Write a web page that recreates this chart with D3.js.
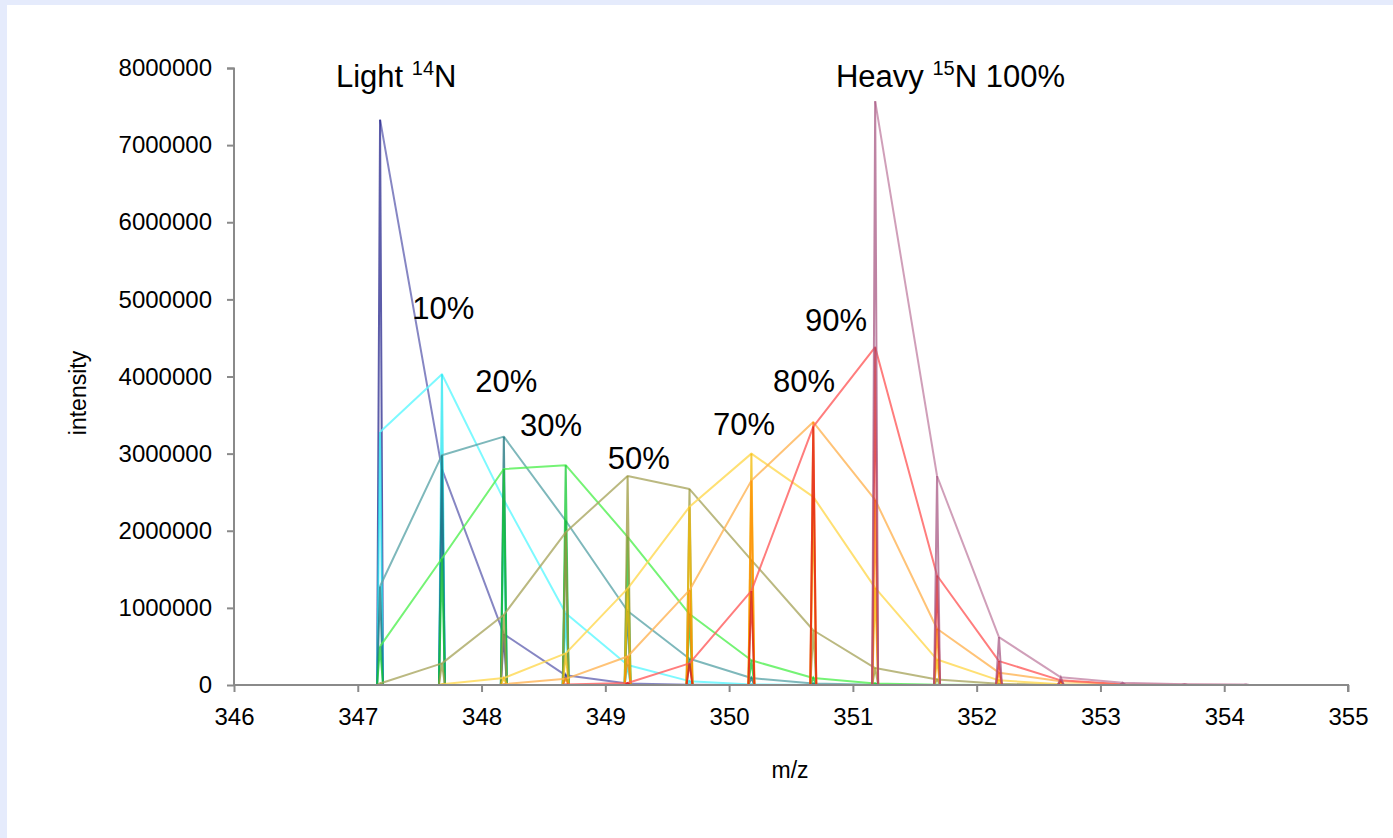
<!DOCTYPE html>
<html>
<head>
<meta charset="utf-8">
<script src="https://cdn.jsdelivr.net/npm/d3@7"></script>
<style>
  html, body { margin: 0; padding: 0; background: #e5ebfc; }
  svg { display: block; }
  text { font-family: "Liberation Sans", Arial, sans-serif; fill: #000; }
</style>
</head>
<body>
<svg id="chart" width="1393" height="838"></svg>
<script>
// ---- data ----
const peakMz = [347.18, 347.68, 348.18, 348.68, 349.18, 349.68, 350.18, 350.68, 351.18, 351.68, 352.18, 352.68, 353.18, 353.68, 354.18];

const light  = [7330000, 2800000, 660000, 125000, 20000, 3000, 0, 0, 0, 0, 0, 0, 0, 0, 0];
const pct10  = [3280000, 4030000, 2400000, 930000, 260000, 50000, 8000, 0, 0, 0, 0, 0, 0, 0, 0];
const pct20  = [1280000, 2980000, 3220000, 2130000, 960000, 340000, 90000, 20000, 3000, 0, 0, 0, 0, 0, 0];
const pct30  = [500000, 1640000, 2800000, 2850000, 1920000, 920000, 320000, 90000, 20000, 3000, 0, 0, 0, 0, 0];
const pct50  = [20000, 280000, 910000, 1980000, 2710000, 2540000, 1620000, 710000, 220000, 70000, 15000, 3000, 0, 0, 0];
const pct70  = [null, 10000, 90000, 410000, 1250000, 2310000, 3000000, 2440000, 1260000, 330000, 60000, 10000, 0, 0, 0];
const pct80  = [null, null, 10000, 80000, 370000, 1230000, 2650000, 3410000, 2400000, 730000, 160000, 50000, 10000, 0, 0];
const pct90  = [null, null, null, 5000, 25000, 280000, 1220000, 3350000, 4380000, 1420000, 310000, 60000, 10000, 2000, 0];
const heavy  = [null, null, null, null, null, null, null, null, 7570000, 2710000, 620000, 100000, 30000, 10000, 5000];

const seriesNames = ["Light", "10%", "20%", "30%", "50%", "70%", "80%", "90%", "100%"];
const seriesValues = [light, pct10, pct20, pct30, pct50, pct70, pct80, pct90, heavy];
const envelopeColors = ["#6868b4", "#5cf8ff", "#5ea6aa", "#52f052", "#aaa862", "#ffd850", "#ffb455", "#ff5c5c", "#c487a8"];
const spikeColors    = ["#26268c", "#22e6f0", "#17707a", "#12c830", "#9c9a3c", "#f2b800", "#ff8a00", "#e01a1a", "#a85a84"];

const xTicks = [346, 347, 348, 349, 350, 351, 352, 353, 354, 355];
const yTicks = [0, 1000000, 2000000, 3000000, 4000000, 5000000, 6000000, 7000000, 8000000];

// annotation labels: text, superscript, rest, anchor (m/z, intensity) at left baseline
const labelTexts = [
  { pre: "Light ", sup: "14", post: "N", mz: 346.824, v: 7760000 },
  { pre: "Heavy ", sup: "15", post: "N 100%", mz: 350.863, v: 7760000 },
  { pre: "10%", sup: "", post: "", mz: 347.44, v: 4750000 },
  { pre: "20%", sup: "", post: "", mz: 347.95, v: 3800000 },
  { pre: "30%", sup: "", post: "", mz: 348.31, v: 3230000 },
  { pre: "50%", sup: "", post: "", mz: 349.02, v: 2800000 },
  { pre: "70%", sup: "", post: "", mz: 349.87, v: 3240000 },
  { pre: "80%", sup: "", post: "", mz: 350.355, v: 3800000 },
  { pre: "90%", sup: "", post: "", mz: 350.613, v: 4590000 }
];

// ---- drawing ----
const svg = d3.select("#chart");
svg.append("rect").attr("x", 7).attr("y", 5).attr("width", 1393 - 7).attr("height", 838 - 5).attr("fill", "#ffffff");

const x = d3.scaleLinear().domain([346, 355]).range([234, 1348]);
const y = d3.scaleLinear().domain([0, 8000000]).range([685, 68]);

const halfWidth = 0.024; // spike half width in m/z

const g = svg.append("g");

seriesValues.forEach((vals, i) => {
  const pts = peakMz.map((m, k) => ({ m, v: vals[k] })).filter(d => d.v !== null);
  const prof = [];
  pts.forEach(d => {
    prof.push({ m: d.m - halfWidth, v: 0 });
    prof.push({ m: d.m, v: d.v });
    prof.push({ m: d.m + halfWidth, v: 0 });
  });
  const line = d3.line().x(d => x(d.m)).y(d => y(d.v));
  g.append("path")
    .attr("d", line(pts))
    .attr("fill", "none")
    .attr("stroke", envelopeColors[i])
    .attr("stroke-opacity", 0.8)
    .attr("stroke-width", 2)
    .attr("stroke-linejoin", "round");
  g.append("path")
    .attr("d", line(prof))
    .attr("fill", "none")
    .attr("stroke", spikeColors[i])
    .attr("stroke-opacity", 0.75)
    .attr("stroke-width", 2)
    .attr("stroke-linejoin", "miter");
});

// axes
const axisColor = "#8a8a8a";
const yAxis = svg.append("g").attr("transform", "translate(234,0)")
  .call(d3.axisLeft(y).tickValues(yTicks).tickFormat(d3.format("d")).tickSize(7).tickPadding(15));
const xAxis = svg.append("g").attr("transform", "translate(0,685)")
  .call(d3.axisBottom(x).tickValues(xTicks).tickFormat(d3.format("d")).tickSize(7).tickPadding(16));
[yAxis, xAxis].forEach(a => {
  a.select(".domain").attr("stroke", axisColor).attr("stroke-width", 2);
  a.selectAll(".tick line").attr("stroke", axisColor).attr("stroke-width", 2);
  a.selectAll(".tick text").attr("font-size", 24).attr("font-family", "Liberation Sans, Arial, sans-serif").attr("fill", "#000");
});
yAxis.select(".domain").attr("d", "M-7,68.5H0V685");
xAxis.select(".domain").attr("d", "M234,0V0H1348V7");

svg.append("text").attr("x", 790).attr("y", 778).attr("text-anchor", "middle")
  .attr("font-size", 23).text("m/z");
svg.append("text").attr("transform", "translate(86,393) rotate(-90)").attr("text-anchor", "middle")
  .attr("font-size", 23).text("intensity");

labelTexts.forEach(l => {
  const t = svg.append("text").attr("x", x(l.mz)).attr("y", y(l.v)).attr("font-size", 31);
  t.append("tspan").text(l.pre);
  if (l.sup) {
    t.append("tspan").attr("font-size", 20).attr("dy", -12).text(l.sup);
    t.append("tspan").attr("dy", 12).text(l.post);
  }
});
</script>
</body>
</html>
